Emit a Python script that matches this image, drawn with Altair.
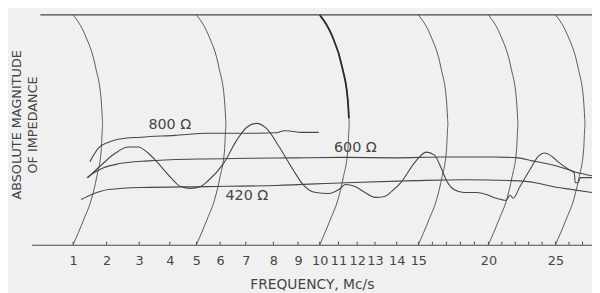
import altair as alt
import pandas as pd
import numpy as np

# ---- frequency dial calibration (recorder chart paper, non-linear) ----
dial_freq = [0, 1, 2, 3, 4, 5, 6, 7, 8, 9, 10, 11, 12, 13, 14, 15, 20, 25, 27.7]
dial_pos = [0, 42, 76, 109, 140, 167, 191, 217, 245, 270, 292, 311, 330, 348, 370, 392, 463, 531, 568]

tick_labels = [1, 2, 3, 4, 5, 6, 7, 8, 9, 10, 11, 12, 13, 14, 15, 20, 25]
minor_ticks = list(range(1, 28))

# ---- measured curves: frequency (Mc/s) and relative magnitude (0..100) ----
f_800 = [1.5, 1.76, 2.06, 2.36, 3.06, 4.19, 5.46, 7.39, 8.12, 8.44, 8.72, 9.14, 9.95]
v_800 = [36.1, 42.1, 44.6, 45.9, 46.8, 47.6, 48.5, 48.5, 48.7, 49.6, 49.4, 48.9, 48.9]

f_600 = [1.41, 1.62, 1.91, 2.36, 3.29, 5.04, 7.04, 8.92, 11.37, 13.91, 16.83, 20.37, 22.2,
         23.3, 24.4, 25.5, 26.4, 27.7]
v_600 = [29.2, 31.3, 33.5, 35.2, 36.5, 37.3, 37.6, 37.8, 38.0, 37.8, 38.2, 38.2, 37.8,
         36.5, 35.2, 33.5, 31.8, 30.0]

f_420 = [1.24, 1.56, 2.06, 3.06, 5.46, 8.12, 11.37, 14.82, 18.31, 21.84, 23.5, 24.78, 26.24, 27.7]
v_420 = [19.7, 21.9, 24.0, 24.9, 25.3, 25.8, 27.0, 27.9, 28.3, 27.9, 27.0, 25.3, 24.0, 22.7]

f_open = [1.44, 1.85, 2.27, 2.67, 2.97, 3.29, 3.61, 4.04, 4.41, 4.78, 5.17, 5.46, 6.15, 6.65,
          7.04, 7.39, 7.75, 8.24, 8.8, 9.23, 9.82, 10.47, 11.1, 11.37, 11.89, 12.44, 13.0,
          13.45, 13.77, 14.23, 14.82, 15.56, 16.13, 16.62, 17.04, 17.54, 18.24, 19.15, 19.86,
          20.59, 21.32, 21.62, 21.84, 22.35, 23.09, 23.68, 24.19, 24.78, 25.29, 26.02, 26.39,
          26.46, 26.68, 26.83, 27.7]
v_open = [29.2, 34.8, 39.9, 42.5, 42.5, 39.9, 35.6, 29.2, 25.3, 24.5, 25.3, 27.5, 35.6, 45.5,
          51.1, 52.8, 50.6, 42.5, 32.6, 26.2, 22.7, 22.3, 24.5, 26.2, 25.3, 22.7, 20.6,
          21.0, 23.2, 27.5, 35.6, 40.3, 39.1, 33.5, 27.5, 24.0, 22.7, 22.7, 21.9,
          20.2, 19.3, 21.5, 20.2, 25.3, 32.6, 38.2, 39.9, 38.2, 35.6, 32.6, 31.3,
          27.0, 27.0, 29.2, 29.2]

# ---- recorder pen arcs (time lines) ----
arc_base_freq = [1, 5, 10, 15, 20, 25]
arc_height = [100, 91.4, 76.8, 62.7, 55, 51.9, 41.2, 29.6, 19.7, 11.2, 0]
arc_bulge = [0, 12, 23, 28.5, 29.6, 30, 28.5, 24, 18.5, 11, 0]

frame_start = 0.21
frame_end = 27.7

labels_txt = ["800 Ω", "600 Ω", "420 Ω"]
labels_f = [4.0, 11.9, 7.04]
labels_v = [51.9, 42.1, 21.0]

# ---- tables ----
rows = []
for name, fs, vs in [("800", f_800, v_800), ("600", f_600, v_600),
                     ("420", f_420, v_420), ("open", f_open, v_open)]:
    for i, (f, v) in enumerate(zip(fs, vs)):
        rows.append({"series": name, "i": i, "f": f, "v": v})
curves = pd.DataFrame(rows)

arc_rows = []
for b in arc_base_freq:
    base_pos = np.interp(b, dial_freq, dial_pos)
    for i, (h, d) in enumerate(zip(arc_height, arc_bulge)):
        arc_rows.append({"arc": b, "i": i, "v": h,
                         "f": float(np.interp(base_pos + d, dial_pos, dial_freq))})
arcs = pd.DataFrame(arc_rows)
thick = arcs[(arcs["arc"] == 10) & (arcs["v"] >= 55)]

ticks = pd.DataFrame({"f": minor_ticks, "v0": 0.0, "v1": 1.3})
frame = pd.DataFrame({"f": [frame_start], "f2": [frame_end], "v": [100]})
labels = pd.DataFrame({"t": labels_txt, "f": labels_f, "v": labels_v})

FONT = "DejaVu Sans"
INK = "#474747"
TXT = "#454545"

xscale = alt.Scale(domain=dial_freq, range=dial_pos, clamp=False)
yscale = alt.Scale(domain=[0, 100])

xaxis = alt.Axis(title="FREQUENCY, Mc/s", values=tick_labels, ticks=False, grid=False,
                 domainColor=INK, labelFont=FONT, labelFontSize=13, labelColor=TXT,
                 labelPadding=10, labelOverlap=False, labelFlush=False,
                 titleFont=FONT, titleFontSize=14, titleFontWeight="normal", titleColor=TXT,
                 titleY=44, titleBaseline="alphabetic")
yaxis = alt.Axis(title=["ABSOLUTE MAGNITUDE", "OF IMPEDANCE"], domain=False, ticks=False,
                 labels=False, grid=False, titleFont=FONT, titleFontSize=13,
                 titleFontWeight="normal", titleColor=TXT, titleAngle=270,
                 titleX=-11.5, titleY=111, titleAlign="center", titleBaseline="alphabetic",
                 titleLineHeight=16.5)


def X(field="f"):
    return alt.X(f"{field}:Q", scale=xscale, axis=xaxis)


def Y(field="v"):
    return alt.Y(f"{field}:Q", scale=yscale, axis=yaxis)


arc_layer = alt.Chart(arcs).mark_line(color=INK, strokeWidth=0.9, interpolate="monotone").encode(
    x=X(), y=Y(), detail="arc:N", order="i:Q")
thick_layer = alt.Chart(thick).mark_line(color="#2a2a2a", strokeWidth=1.8, interpolate="monotone").encode(
    x=X(), y=Y(), order="i:Q")
frame_layer = alt.Chart(frame).mark_rule(color=INK, strokeWidth=1.2).encode(
    x=X(), x2="f2:Q", y=Y())
tick_layer = alt.Chart(ticks).mark_rule(color=INK, strokeWidth=1).encode(
    x=X(), y=Y("v0"), y2="v1:Q")
curve_layer = alt.Chart(curves).mark_line(color=INK, strokeWidth=1.1, interpolate="monotone").encode(
    x=X(), y=Y(), detail="series:N", order="i:Q")
label_layer = alt.Chart(labels).mark_text(font=FONT, fontSize=14.5, color=TXT).encode(
    x=X(), y=Y(), text="t:N")

chart = alt.layer(arc_layer, thick_layer, frame_layer, tick_layer, curve_layer, label_layer).properties(
    width=568, height=233,
    padding={"left": 24, "top": 5, "right": 0, "bottom": 52},
    autosize=alt.AutoSizeParams(type="none"),
    background="#f0f0f0",
).configure_view(stroke=None)

chart.save("out.html", embed_options={"renderer": "svg", "actions": False})
